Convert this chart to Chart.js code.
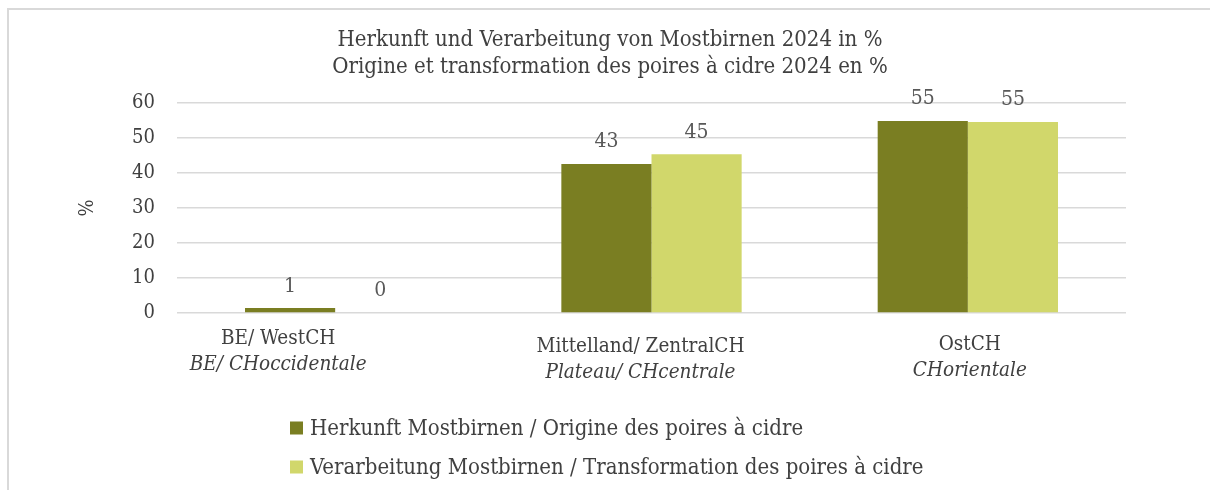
<!DOCTYPE html>
<html>
<head>
<meta charset="utf-8">
<script src="https://cdn.jsdelivr.net/npm/chart.js@4.4.1/dist/chart.umd.min.js"></script>
<style>
    html, body { margin: 0; padding: 0; background: #fff; overflow: hidden; }
    #wrap { position: relative; width: 1210px; height: 490px; overflow: hidden; }
    #frame {
        position: absolute; left: 7px; top: 8px; width: 1300px; height: 600px;
        border-top: 2px solid #d9d9d9; border-left: 2px solid #d9d9d9;
    }
    #chart { position: absolute; left: 0; top: 0; }
</style>
</head>
<body>
<div id="wrap">
    <div id="frame"></div>
    <canvas id="chart" width="1210" height="490"></canvas>
</div>
<script>
// Data
const regionsDE = ['BE/ WestCH', 'Mittelland/ ZentralCH', 'OstCH'];
const regionsFR = ['BE/ CHoccidentale', 'Plateau/ CHcentrale', 'CHorientale'];
const herkunft = [1.4, 42.6, 54.9];
const verarbeitung = [0, 45.4, 54.6];
const seriesNames = [
    'Herkunft Mostbirnen / Origine des poires à cidre',
    'Verarbeitung Mostbirnen / Transformation des poires à cidre'
];
const titleLines = [
    'Herkunft und Verarbeitung von Mostbirnen 2024 in %',
    'Origine et transformation des poires à cidre 2024 en %'
];
const yMin = 0, yMax = 60, yStep = 10;

const FONT = "'DejaVu Serif Condensed', 'DejaVu Serif', serif";
const TEXT = '#404040';

Chart.defaults.font.family = FONT;
Chart.defaults.color = TEXT;

// Bar value labels + two-line category labels + legend (drawn on canvas)
const extrasPlugin = {
    id: 'extras',
    afterDatasetsDraw(chart) {
        const ctx = chart.ctx;
        ctx.save();
        ctx.font = '21px ' + FONT;
        ctx.fillStyle = '#595959';
        ctx.textAlign = 'center';
        ctx.textBaseline = 'middle';
        chart.data.datasets.forEach((ds, di) => {
            chart.getDatasetMeta(di).data.forEach((bar, i) => {
                ctx.fillText(String(Math.round(ds.data[i])), bar.x, bar.y - 22);
            });
        });
        ctx.restore();
    },
    afterDraw(chart, args, opts) {
        const ctx = chart.ctx;
        const xs = chart.scales.x;
        const bottom = chart.chartArea.bottom;
        ctx.save();
        ctx.fillStyle = TEXT;
        ctx.textAlign = 'center';
        ctx.textBaseline = 'middle';
        regionsDE.forEach((lbl, i) => {
            const x = xs.getPixelForValue(i) + opts.labelDx[i];
            const y = bottom + opts.labelDy[i];
            ctx.font = '20.5px ' + FONT;
            ctx.fillText(lbl, x, y);
            ctx.font = 'italic 20.5px ' + FONT;
            ctx.fillText(regionsFR[i], x, y + 26);
        });

        // legend
        ctx.textAlign = 'left';
        ctx.font = '22px ' + FONT;
        chart.data.datasets.forEach((ds, i) => {
            const y = bottom + opts.legendTop + i * opts.legendGap;
            ctx.fillStyle = ds.backgroundColor;
            ctx.fillRect(opts.legendX, y - 6.5, 13, 13);
            ctx.fillStyle = TEXT;
            ctx.fillText(ds.label, opts.legendX + 20, y + 1);
        });
        ctx.restore();
    }
};

new Chart(document.getElementById('chart'), {
    type: 'bar',
    data: {
        labels: regionsDE,
        datasets: [{
            label: seriesNames[0],
            data: herkunft,
            backgroundColor: '#7a7e22',
            categoryPercentage: 0.57,
            barPercentage: 1.0
        }, {
            label: seriesNames[1],
            data: verarbeitung,
            backgroundColor: '#d1d76b',
            categoryPercentage: 0.57,
            barPercentage: 1.0
        }]
    },
    options: {
        responsive: false,
        animation: false,
        layout: { padding: { left: 10, right: 0, top: 0, bottom: 0 } },
        plugins: {
            legend: { display: false },
            tooltip: { enabled: false },
            title: {
                display: true,
                text: titleLines,
                color: TEXT,
                font: { size: 22, weight: 'normal', lineHeight: 1.23 },
                padding: { top: 27, bottom: 22 }
            },
            extras: {
                labelDx: [-57, -11, 2],
                labelDy: [26, 34, 32],
                legendX: 290,
                legendTop: 115,
                legendGap: 39
            }
        },
        scales: {
            x: {
                grid: { display: false },
                border: { display: false },
                ticks: { display: false },
                afterFit: s => { s.height = 177; }
            },
            y: {
                min: yMin,
                max: yMax,
                ticks: { stepSize: yStep, padding: 22, color: TEXT, font: { size: 20 } },
                grid: { color: '#d9d9d9', lineWidth: 1.5, drawTicks: false },
                border: { display: false },
                title: {
                    display: true,
                    text: '%',
                    color: TEXT,
                    font: { size: 20 },
                    padding: { top: 66, bottom: 0 }
                },
                afterFit: s => { s.width = 167; }
            },
            // empty right-hand spacer so the title stays centred on the full width
            spacer: {
                type: 'linear',
                position: 'right',
                grid: { display: false },
                border: { display: false },
                ticks: { display: false },
                afterFit: s => { s.width = 84; }
            }
        }
    },
    plugins: [extrasPlugin]
});
</script>
</body>
</html>
